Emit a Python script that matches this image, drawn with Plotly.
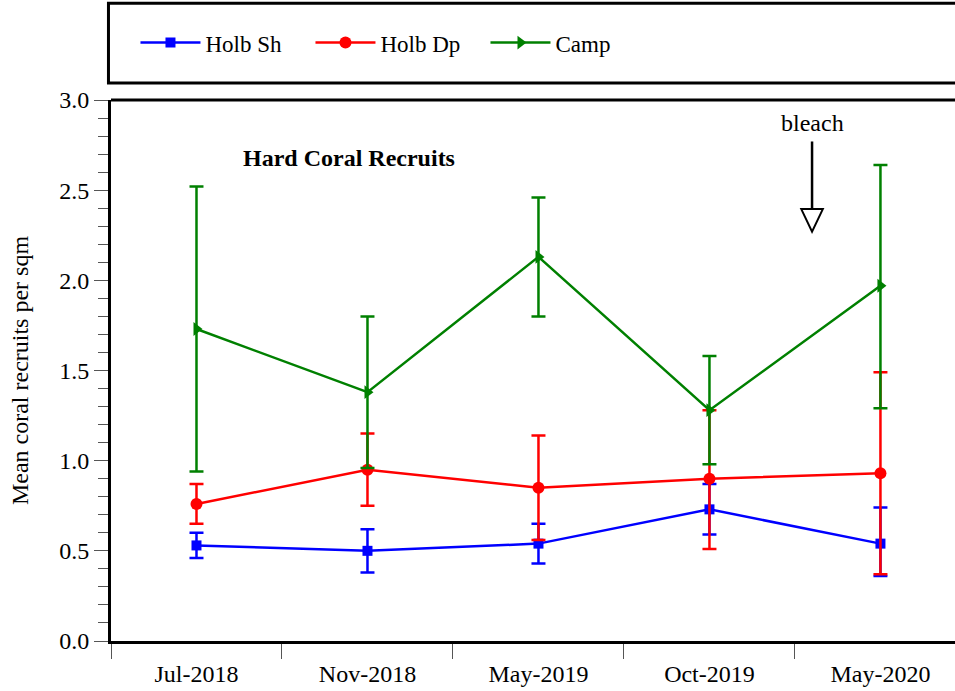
import plotly.graph_objects as go

categories = ["Jul-2018", "Nov-2018", "May-2019", "Oct-2019", "May-2020"]

holb_sh = [0.53, 0.50, 0.54, 0.73, 0.54]
holb_sh_hi = [0.60, 0.62, 0.65, 0.87, 0.74]
holb_sh_lo = [0.46, 0.38, 0.43, 0.59, 0.36]

holb_dp = [0.76, 0.95, 0.85, 0.90, 0.93]
holb_dp_hi = [0.87, 1.15, 1.14, 1.28, 1.49]
holb_dp_lo = [0.65, 0.75, 0.56, 0.51, 0.37]

camp = [1.73, 1.38, 2.13, 1.28, 1.97]
camp_hi = [2.52, 1.80, 2.46, 1.58, 2.64]
camp_lo = [0.94, 0.96, 1.80, 0.98, 1.29]

series = [
    ("Holb Sh", holb_sh, holb_sh_hi, holb_sh_lo, "#0000FF", "square", 10),
    ("Holb Dp", holb_dp, holb_dp_hi, holb_dp_lo, "#FF0000", "circle", 12),
    ("Camp", camp, camp_hi, camp_lo, "#008000", "triangle-right", 12),
]

FONT = "Liberation Serif"
FS = 24

fig = go.Figure()
for name, y, hi, lo, color, sym, size in series:
    fig.add_trace(go.Scatter(
        x=categories, y=y, name=name, mode="lines+markers",
        line=dict(color=color, width=2.5),
        marker=dict(symbol=sym, size=size, color=color),
        error_y=dict(type="data", symmetric=False,
                     array=[h - v for h, v in zip(hi, y)],
                     arrayminus=[v - l for v, l in zip(y, lo)],
                     color=color, thickness=2.5, width=7),
    ))

# bleach arrow (open head)
ax_x = 3.6
fig.add_shape(type="line", x0=ax_x, x1=ax_x, y0=2.77, y1=2.40,
              line=dict(color="black", width=2.5))
fig.add_shape(type="path",
              path=f"M {ax_x-0.063},2.395 L {ax_x+0.063},2.395 L {ax_x},2.27 Z",
              fillcolor="white", line=dict(color="black", width=2))
fig.add_annotation(x=ax_x, y=2.87, text="bleach", showarrow=False,
                   font=dict(family=FONT, size=FS, color="black"))
fig.add_annotation(x=0.89, y=2.68, text="<b>Hard Coral Recruits</b>", showarrow=False,
                   font=dict(family=FONT, size=FS, color="black"))

# top border of plot and legend box
fig.add_shape(type="line", xref="paper", yref="paper", x0=0, x1=1.02, y0=1, y1=1,
              line=dict(color="black", width=3))
fig.add_shape(type="rect", xref="paper", yref="paper", x0=-0.003, x1=1.05,
              y0=1.0315, y1=1.179, line=dict(color="black", width=3),
              fillcolor="rgba(0,0,0,0)")

fig.update_layout(
    width=955, height=691,
    margin=dict(l=111, r=0, t=100, b=50, autoexpand=False),
    plot_bgcolor="white", paper_bgcolor="white",
    font=dict(family=FONT, size=FS, color="black"),
    showlegend=True,
    legend=dict(orientation="h", x=0.029, xanchor="left", y=1.106, yanchor="middle",
                entrywidth=100, entrywidthmode="pixels", itemwidth=60,
                bgcolor="rgba(0,0,0,0)", font=dict(family=FONT, size=23)),
    xaxis=dict(type="category", range=[-0.5, 4.436], tickson="boundaries",
               ticks="outside", ticklen=15, tickcolor="#555", tickwidth=1,
               ticklabelstandoff=9,
               showline=True, linecolor="black", linewidth=3, automargin=False,
               showgrid=False, zeroline=False, tickfont=dict(size=FS)),
    yaxis=dict(range=[0, 3], dtick=0.5, tickformat=".1f",
               ticks="outside", ticklen=14, tickcolor="#555", tickwidth=1,
               minor=dict(dtick=0.1, ticks="outside", ticklen=10, tickcolor="#555", tickwidth=1),
               showline=True, linecolor="black", linewidth=3, automargin=False,
               showgrid=False, zeroline=False, tickfont=dict(size=FS),
               title=dict(text="Mean coral recruits per sqm", font=dict(size=FS), standoff=24)),
)

fig.write_html("out.html", config={"displayModeBar": False},
               post_script="document.body.style.margin='0';document.body.style.overflow='hidden';")
